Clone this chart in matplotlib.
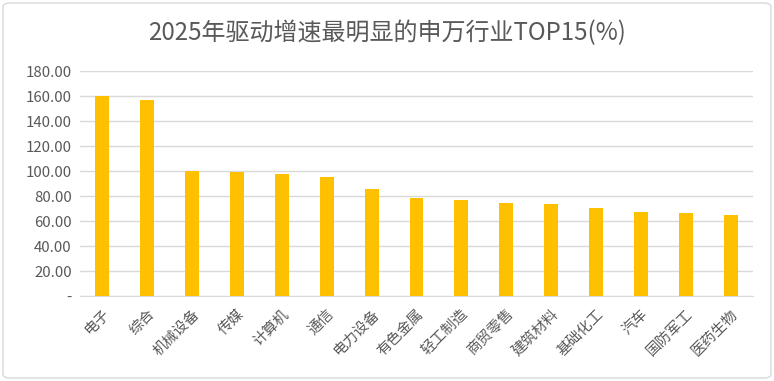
import numpy as np
import matplotlib
matplotlib.use("Agg")
import matplotlib.pyplot as plt
from matplotlib.patches import FancyBboxPatch

plt.rcParams['font.family'] = ['Noto Sans CJK SC', 'DejaVu Sans']

industries = ['电子', '综合', '机械设备', '传媒', '计算机', '通信', '电力设备', '有色金属',
              '轻工制造', '商贸零售', '建筑材料', '基础化工', '汽车', '国防军工', '医药生物']
growth = [160.5, 157.0, 100.4, 99.1, 98.0, 95.6, 86.0, 78.7,
          77.1, 74.4, 73.6, 70.1, 67.2, 66.7, 65.1]
yticks = [0, 20, 40, 60, 80, 100, 120, 140, 160, 180]
ytick_labels = ['-'] + ['%.2f' % v for v in yticks[1:]]

fig = plt.figure(figsize=(7.74, 3.81), dpi=100)
ax = fig.add_axes([80 / 774, 1 - 296 / 381, (753 - 80) / 774, (296 - 71.3) / 381])

x = np.arange(len(industries))
ax.bar(x, growth, width=0.31, color='#FFC000', zorder=3)

ax.set_xlim(-0.5, len(industries) - 0.5)
ax.set_ylim(0, 180)
ax.set_yticks(yticks)
ax.set_yticklabels(ytick_labels, fontsize=10.8, color='#595959')
ax.set_xticks(x)
ax.set_xticklabels(industries, rotation=45, ha='right', va='top', rotation_mode='anchor',
                   fontsize=10.5, color='#595959')
ax.tick_params(axis='both', length=0, pad=6)
ax.tick_params(axis='x', pad=8)
ax.grid(axis='y', color='#D9D9D9', linewidth=1, zorder=0)
for side in ['top', 'right', 'left']:
    ax.spines[side].set_visible(False)
ax.spines['bottom'].set_color('#D9D9D9')

fig.text(0.5, 1 - 33 / 381, '2025年驱动增速最明显的申万行业TOP15(%)', ha='center', va='center',
         fontsize=17.3, color='#595959')

border = FancyBboxPatch((3 / 774, 3 / 381), 768 / 774, 375 / 381, boxstyle='round,pad=0,rounding_size=0.01',
                        transform=fig.transFigure, fill=False, edgecolor='#D9D9D9', linewidth=1)
fig.patches.append(border)

fig.savefig('out.png', dpi=100)
